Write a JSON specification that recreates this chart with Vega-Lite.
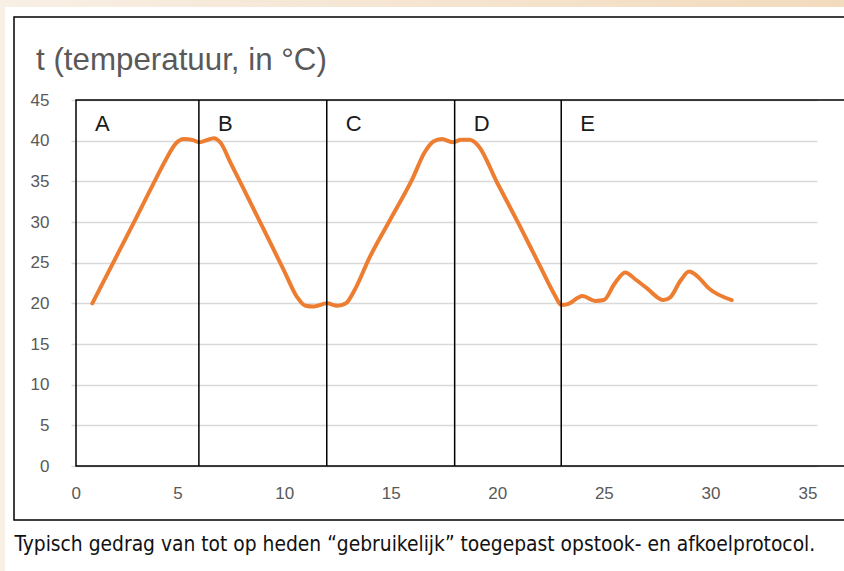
{
  "$schema": "https://vega.github.io/schema/vega-lite/v6.json",
  "width": 746,
  "height": 366,
  "autosize": {"type": "none"},
  "padding": {"left": 71, "top": 100, "right": 27, "bottom": 105},
  "background": "white",
  "config": {"view": {"stroke": null}, "font": "Liberation Sans"},
  "data": {
    "values": [
      {"t": 1, "temp": 20},
      {"t": 2, "temp": 25.1},
      {"t": 3, "temp": 30.2},
      {"t": 4, "temp": 35.4},
      {"t": 4.5, "temp": 37.9},
      {"t": 4.9, "temp": 39.6},
      {"t": 5.3, "temp": 40.2},
      {"t": 5.7, "temp": 40.1},
      {"t": 6.0, "temp": 39.8},
      {"t": 6.3, "temp": 40.0},
      {"t": 6.7, "temp": 40.3},
      {"t": 7.0, "temp": 39.8},
      {"t": 7.5, "temp": 37.2},
      {"t": 8.0, "temp": 34.6},
      {"t": 9.0, "temp": 29.3},
      {"t": 10.0, "temp": 24.0},
      {"t": 10.6, "temp": 20.8},
      {"t": 11.0, "temp": 19.7},
      {"t": 11.4, "temp": 19.6},
      {"t": 12.0, "temp": 20.0},
      {"t": 12.5, "temp": 19.7},
      {"t": 12.9, "temp": 20.0},
      {"t": 13.3, "temp": 21.6},
      {"t": 14.0, "temp": 25.6},
      {"t": 15.0, "temp": 30.4},
      {"t": 16.0, "temp": 35.2},
      {"t": 16.6, "temp": 38.6},
      {"t": 17.0, "temp": 39.9},
      {"t": 17.4, "temp": 40.2},
      {"t": 17.9, "temp": 39.8},
      {"t": 18.3, "temp": 40.1},
      {"t": 18.7, "temp": 40.1},
      {"t": 19.1, "temp": 39.4},
      {"t": 20.0, "temp": 34.8},
      {"t": 21.0, "temp": 29.8},
      {"t": 22.0, "temp": 24.6},
      {"t": 22.7, "temp": 21.0},
      {"t": 23.0, "temp": 19.8},
      {"t": 23.3, "temp": 19.9},
      {"t": 24.0, "temp": 20.9},
      {"t": 24.6, "temp": 20.3},
      {"t": 25.0, "temp": 20.4},
      {"t": 25.5, "temp": 22.4},
      {"t": 26.0, "temp": 23.8},
      {"t": 26.5, "temp": 22.9},
      {"t": 27.0, "temp": 21.9},
      {"t": 27.8, "temp": 20.4},
      {"t": 28.1, "temp": 20.7},
      {"t": 28.6, "temp": 22.8},
      {"t": 29.0, "temp": 23.9},
      {"t": 29.4, "temp": 23.3},
      {"t": 29.9, "temp": 21.9},
      {"t": 31.0, "temp": 20.4}
    ]
  },
  "layer": [
    {
      "data": {"values": [{"part": "topband"}]},
      "mark": {"type": "rect", "clip": false, "strokeWidth": 0, "fill": {"gradient": "linear", "x1": 0, "y1": 0, "x2": 1, "y2": 0, "stops": [{"offset": 0, "color": "#f8efe5"}, {"offset": 1, "color": "#f2dabb"}]}},
      "encoding": {
        "x": {"datum": -3.4, "type": "quantitative"},
        "x2": {"datum": 38},
        "y": {"datum": 57.4, "type": "quantitative"},
        "y2": {"datum": 56.44}
      }
    },
    {
      "data": {"values": [{"part": "leftband"}]},
      "mark": {"type": "rect", "clip": false, "strokeWidth": 0, "fill": "#f8efe5"},
      "encoding": {
        "x": {"datum": -3.4, "type": "quantitative"},
        "x2": {"datum": -3.097},
        "y": {"datum": 57.4, "type": "quantitative"},
        "y2": {"datum": -13}
      }
    },
    {
      "mark": {"type": "line", "color": "#ED7D31", "strokeWidth": 4, "interpolate": "monotone", "strokeCap": "round", "strokeJoin": "round"},
      "encoding": {
        "x": {
          "field": "t",
          "type": "quantitative",
          "scale": {"domain": [0, 35], "nice": false, "zero": false},
          "axis": {
            "values": [0, 5, 10, 15, 20, 25, 30, 35],
            "grid": false,
            "domain": false,
            "ticks": false,
            "tickSize": 0,
            "labelPadding": 19,
            "labelFontSize": 17,
            "labelColor": "#595959",
            "labelFont": "Liberation Sans",
            "title": "Typisch gedrag van tot op heden “gebruikelijk” toegepast opstook- en afkoelprotocol.",
            "titleFont": "DejaVu Sans Condensed",
            "titleFontSize": 20.8,
            "titleFontWeight": "normal",
            "titleColor": "#111111",
            "titleAlign": "left",
            "titleAnchor": "start",
            "titleBaseline": "alphabetic",
            "titleX": -57,
            "titleY": 84
          }
        },
        "y": {
          "field": "temp",
          "type": "quantitative",
          "scale": {"domain": [0, 45], "nice": false, "zero": false},
          "axis": {
            "values": [0, 5, 10, 15, 20, 25, 30, 35, 40, 45],
            "grid": true,
            "gridColor": "#d9d9d9",
            "gridWidth": 1.5,
            "domain": false,
            "ticks": false,
            "tickSize": 0,
            "labelPadding": 22,
            "labelFontSize": 17,
            "labelColor": "#595959",
            "labelFont": "Liberation Sans",
            "title": null
          }
        }
      }
    },
    {
      "data": {"values": [{"part": "box"}]},
      "mark": {"type": "rect", "fill": null, "stroke": "#000000", "strokeWidth": 1.5, "clip": false},
      "encoding": {
        "x": {"datum": 0.235, "type": "quantitative"},
        "x2": {"datum": 38},
        "y": {"datum": 0, "type": "quantitative"},
        "y2": {"datum": 45}
      }
    },
    {
      "data": {"values": [{"part": "frame"}]},
      "mark": {"type": "rect", "fill": null, "stroke": "#000000", "strokeWidth": 1.5, "clip": false},
      "encoding": {
        "x": {"datum": -2.674, "type": "quantitative"},
        "x2": {"datum": 38},
        "y": {"datum": -6.64, "type": "quantitative"},
        "y2": {"datum": 55.2}
      }
    },
    {
      "data": {"values": [{"start": 6}, {"start": 12}, {"start": 18}, {"start": 23}]},
      "mark": {"type": "rule", "color": "#000000", "strokeWidth": 1.5},
      "encoding": {
        "x": {"field": "start", "type": "quantitative"},
        "y": {"datum": 0, "type": "quantitative"},
        "y2": {"datum": 45}
      }
    },
    {
      "data": {"values": [{"phase": "A", "start": 0.235}, {"phase": "B", "start": 6}, {"phase": "C", "start": 12}, {"phase": "D", "start": 18}, {"phase": "E", "start": 23}]},
      "mark": {"type": "text", "align": "left", "baseline": "alphabetic", "fontSize": 22, "color": "#1a1a1a", "font": "Liberation Sans", "dx": 19},
      "encoding": {
        "x": {"field": "start", "type": "quantitative"},
        "y": {"datum": 41.2, "type": "quantitative"},
        "text": {"field": "phase"}
      }
    },
    {
      "data": {"values": [{"label": "t (temperatuur, in °C)"}]},
      "mark": {"type": "text", "align": "left", "baseline": "alphabetic", "fontSize": 31.3, "color": "#595959", "font": "Liberation Sans"},
      "encoding": {
        "x": {"datum": -1.642, "type": "quantitative"},
        "y": {"datum": 48.69, "type": "quantitative"},
        "text": {"field": "label"}
      }
    }
  ]
}
